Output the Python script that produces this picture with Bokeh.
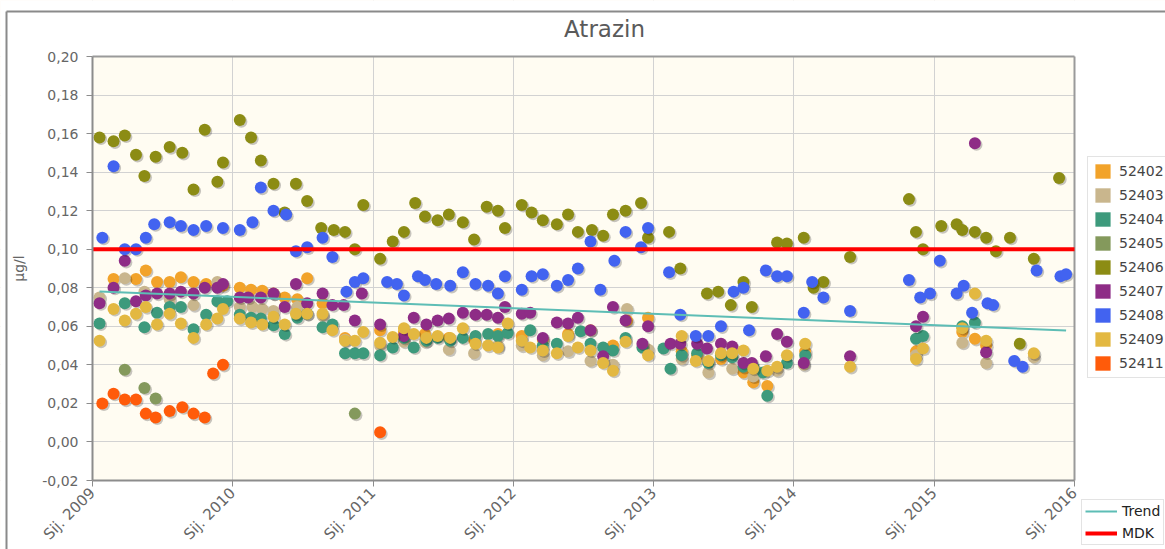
import numpy as np
from bokeh.plotting import figure
from bokeh.models import (Range1d, FixedTicker, CustomJSTickFormatter, Legend,
                          LegendItem, BoxAnnotation, Label)
from bokeh.embed import file_html
from bokeh.resources import INLINE

# ---------------- data ----------------
title_text = "Atrazin"
y_label = "µg/l"
year_ticks = [2009, 2010, 2011, 2012, 2013, 2014, 2015, 2016]
year_tick_labels = ["Sij. 2009", "Sij. 2010", "Sij. 2011", "Sij. 2012",
                    "Sij. 2013", "Sij. 2014", "Sij. 2015", "Sij. 2016"]
y_ticks = [-0.02, 0.0, 0.02, 0.04, 0.06, 0.08, 0.10, 0.12, 0.14, 0.16, 0.18, 0.20]

station_names = ["52402", "52403", "52404", "52405", "52406",
                 "52407", "52408", "52409", "52411"]
station_colors = ["#F2A32A", "#C9B68D", "#3D9A7C", "#84995C", "#8C8C14",
                  "#8E2C86", "#4263F0", "#E3B841", "#FF5B0A"]

s52402_x = [2009.15, 2009.31, 2009.38, 2009.46, 2009.55, 2009.63, 2009.72, 2009.81,
            2009.93, 2010.05, 2010.13, 2010.21, 2010.29, 2010.37, 2010.46, 2010.53,
            2010.64, 2010.80, 2011.05, 2011.22, 2011.37, 2011.54, 2011.72, 2011.89,
            2012.06, 2012.21, 2012.39, 2012.55, 2012.71, 2012.81, 2012.96, 2013.20,
            2013.31, 2013.48, 2013.64, 2013.71, 2013.81, 2014.08, 2014.87, 2015.20,
            2015.29, 2015.37]
s52402_y = [0.0845, 0.0845, 0.089, 0.083, 0.083, 0.0855, 0.083, 0.082,
            0.081, 0.080, 0.079, 0.0785, 0.077, 0.075, 0.074, 0.085,
            0.072, 0.054, 0.058, 0.057, 0.056, 0.054, 0.053, 0.056,
            0.055, 0.053, 0.056, 0.058, 0.050, 0.063, 0.0645, 0.047,
            0.045, 0.043, 0.036, 0.031, 0.029, 0.047, 0.047, 0.057,
            0.0535, 0.050]

s52403_x = [2009.05, 2009.23, 2009.37, 2009.55, 2009.72, 2009.89, 2010.05, 2010.14,
            2010.21, 2010.29, 2010.46, 2010.64, 2010.80, 2011.05, 2011.22, 2011.37,
            2011.54, 2011.72, 2011.89, 2012.06, 2012.21, 2012.39, 2012.55, 2012.71,
            2012.81, 2012.96, 2013.20, 2013.39, 2013.56, 2013.71, 2013.88, 2014.07,
            2014.87, 2015.20, 2015.37, 2015.71]
s52403_y = [0.075, 0.085, 0.078, 0.074, 0.071, 0.083, 0.070, 0.070,
            0.069, 0.068, 0.070, 0.0655, 0.053, 0.050, 0.052, 0.052,
            0.048, 0.046, 0.050, 0.050, 0.045, 0.047, 0.042, 0.040,
            0.069, 0.048, 0.043, 0.036, 0.038, 0.034, 0.037, 0.040,
            0.045, 0.0515, 0.041, 0.044]

s52404_x = [2009.05, 2009.23, 2009.37, 2009.46, 2009.55, 2009.63, 2009.72, 2009.81,
            2009.89, 2009.96, 2010.05, 2010.13, 2010.20, 2010.29, 2010.37, 2010.46,
            2010.53, 2010.64, 2010.71, 2010.80, 2010.87, 2010.93, 2011.05, 2011.14,
            2011.22, 2011.29, 2011.38, 2011.46, 2011.55, 2011.64, 2011.73, 2011.82,
            2011.89, 2011.96, 2012.12, 2012.21, 2012.31, 2012.48, 2012.55, 2012.64,
            2012.71, 2012.80, 2012.92, 2013.07, 2013.12, 2013.20, 2013.31, 2013.39,
            2013.48, 2013.56, 2013.64, 2013.71, 2013.78, 2013.81, 2013.95, 2014.08,
            2014.87, 2014.92, 2015.20, 2015.29]
s52404_y = [0.0615, 0.072, 0.0595, 0.067, 0.070, 0.070, 0.0585, 0.066,
            0.073, 0.073, 0.066, 0.0645, 0.064, 0.0605, 0.056, 0.0645,
            0.0665, 0.0595, 0.061, 0.046, 0.046, 0.046, 0.045, 0.049,
            0.054, 0.049, 0.0525, 0.054, 0.0525, 0.054, 0.055, 0.056,
            0.055, 0.0565, 0.058, 0.050, 0.051, 0.0575, 0.051, 0.049,
            0.0475, 0.054, 0.049, 0.0485, 0.038, 0.045, 0.046, 0.041,
            0.045, 0.044, 0.039, 0.039, 0.036, 0.024, 0.041, 0.045,
            0.0535, 0.055, 0.060, 0.062]

s52405_x = [2009.23, 2009.37, 2009.45, 2010.87]
s52405_y = [0.0375, 0.028, 0.0225, 0.0147]

s52406_x = [2009.05, 2009.15, 2009.23, 2009.31, 2009.37, 2009.45, 2009.55, 2009.64,
            2009.72, 2009.80, 2009.89, 2009.93, 2010.05, 2010.13, 2010.20, 2010.29,
            2010.37, 2010.45, 2010.53, 2010.63, 2010.72, 2010.80, 2010.87, 2010.93,
            2011.05, 2011.14, 2011.22, 2011.30, 2011.37, 2011.46, 2011.54, 2011.64,
            2011.72, 2011.81, 2011.89, 2011.94, 2012.06, 2012.13, 2012.21, 2012.31,
            2012.39, 2012.46, 2012.56, 2012.64, 2012.71, 2012.80, 2012.91, 2012.96,
            2013.11, 2013.19, 2013.38, 2013.46, 2013.55, 2013.64, 2013.70, 2013.88,
            2013.95, 2014.07, 2014.14, 2014.21, 2014.40, 2014.82, 2014.87, 2014.92,
            2015.05, 2015.16, 2015.20, 2015.29, 2015.37, 2015.44, 2015.54, 2015.61,
            2015.71, 2015.89]
s52406_y = [0.158, 0.156, 0.159, 0.149, 0.138, 0.148, 0.153, 0.150,
            0.131, 0.162, 0.135, 0.145, 0.167, 0.158, 0.146, 0.134,
            0.119, 0.134, 0.125, 0.111, 0.110, 0.109, 0.100, 0.123,
            0.095, 0.104, 0.109, 0.124, 0.117, 0.115, 0.118, 0.114,
            0.105, 0.122, 0.120, 0.111, 0.123, 0.119, 0.115, 0.113,
            0.118, 0.109, 0.110, 0.107, 0.118, 0.120, 0.124, 0.106,
            0.109, 0.090, 0.077, 0.078, 0.071, 0.083, 0.070, 0.1035,
            0.103, 0.106, 0.080, 0.083, 0.096, 0.126, 0.109, 0.100,
            0.112, 0.113, 0.110, 0.109, 0.106, 0.099, 0.106, 0.051,
            0.095, 0.137]

s52407_x = [2009.05, 2009.15, 2009.23, 2009.31, 2009.38, 2009.46, 2009.55, 2009.63,
            2009.72, 2009.80, 2009.89, 2009.93, 2010.05, 2010.11, 2010.20, 2010.29,
            2010.37, 2010.45, 2010.53, 2010.64, 2010.71, 2010.79, 2010.87, 2010.92,
            2011.05, 2011.22, 2011.29, 2011.38, 2011.46, 2011.54, 2011.64, 2011.73,
            2011.81, 2011.89, 2011.94, 2012.06, 2012.12, 2012.21, 2012.31, 2012.39,
            2012.46, 2012.55, 2012.64, 2012.71, 2012.80, 2012.92, 2012.96, 2013.12,
            2013.19, 2013.31, 2013.38, 2013.48, 2013.56, 2013.64, 2013.70, 2013.80,
            2013.88, 2013.95, 2014.07, 2014.40, 2014.87, 2014.92, 2015.29, 2015.37]
s52407_y = [0.072, 0.080, 0.094, 0.073, 0.076, 0.077, 0.077, 0.078,
            0.077, 0.080, 0.080, 0.082, 0.075, 0.075, 0.075, 0.077,
            0.070, 0.082, 0.072, 0.077, 0.071, 0.071, 0.063, 0.077,
            0.061, 0.055, 0.0645, 0.061, 0.063, 0.064, 0.067, 0.066,
            0.066, 0.0645, 0.070, 0.0665, 0.067, 0.054, 0.062, 0.0615,
            0.0645, 0.058, 0.0445, 0.070, 0.063, 0.051, 0.060, 0.051,
            0.051, 0.051, 0.0485, 0.051, 0.0495, 0.041, 0.041, 0.0445,
            0.056, 0.052, 0.041, 0.0445, 0.060, 0.065, 0.155, 0.0465]

s52408_x = [2009.07, 2009.15, 2009.23, 2009.31, 2009.38, 2009.44, 2009.55, 2009.63,
            2009.72, 2009.81, 2009.93, 2010.05, 2010.14, 2010.20, 2010.29, 2010.38,
            2010.45, 2010.53, 2010.64, 2010.71, 2010.81, 2010.87, 2010.93, 2011.10,
            2011.17, 2011.22, 2011.32, 2011.37, 2011.45, 2011.55, 2011.64, 2011.73,
            2011.82, 2011.89, 2011.94, 2012.06, 2012.13, 2012.21, 2012.31, 2012.39,
            2012.46, 2012.55, 2012.62, 2012.72, 2012.80, 2012.91, 2012.96, 2013.11,
            2013.19, 2013.30, 2013.39, 2013.48, 2013.57, 2013.64, 2013.68, 2013.80,
            2013.88, 2013.95, 2014.07, 2014.13, 2014.21, 2014.40, 2014.82, 2014.90,
            2014.97, 2015.04, 2015.16, 2015.21, 2015.27, 2015.38, 2015.42, 2015.57,
            2015.63, 2015.73, 2015.90, 2015.94]
s52408_y = [0.106, 0.143, 0.100, 0.100, 0.106, 0.113, 0.114, 0.112,
            0.110, 0.112, 0.111, 0.110, 0.114, 0.132, 0.120, 0.118,
            0.099, 0.101, 0.106, 0.096, 0.078, 0.083, 0.085, 0.083,
            0.082, 0.076, 0.086, 0.084, 0.082, 0.081, 0.088, 0.082,
            0.081, 0.077, 0.086, 0.079, 0.086, 0.087, 0.081, 0.084,
            0.090, 0.104, 0.079, 0.094, 0.109, 0.101, 0.111, 0.088,
            0.066, 0.055, 0.055, 0.060, 0.078, 0.080, 0.058, 0.089,
            0.086, 0.086, 0.067, 0.083, 0.075, 0.068, 0.084, 0.075,
            0.077, 0.094, 0.077, 0.081, 0.067, 0.072, 0.071, 0.042,
            0.039, 0.089, 0.086, 0.087]

s52409_x = [2009.05, 2009.15, 2009.23, 2009.31, 2009.38, 2009.46, 2009.55, 2009.63,
            2009.72, 2009.81, 2009.89, 2009.93, 2010.05, 2010.13, 2010.21, 2010.29,
            2010.37, 2010.45, 2010.53, 2010.64, 2010.71, 2010.80, 2010.87, 2010.93,
            2011.05, 2011.14, 2011.22, 2011.29, 2011.38, 2011.46, 2011.55, 2011.64,
            2011.73, 2011.82, 2011.89, 2011.96, 2012.06, 2012.12, 2012.21, 2012.31,
            2012.39, 2012.46, 2012.55, 2012.64, 2012.71, 2012.80, 2012.96, 2013.20,
            2013.30, 2013.39, 2013.48, 2013.56, 2013.64, 2013.71, 2013.81, 2013.88,
            2013.95, 2014.08, 2014.40, 2014.87, 2014.92, 2015.20, 2015.29, 2015.37,
            2015.71]
s52409_y = [0.0525, 0.069, 0.063, 0.0665, 0.070, 0.061, 0.0665, 0.0615,
            0.054, 0.061, 0.064, 0.069, 0.064, 0.062, 0.061, 0.065,
            0.061, 0.0665, 0.0665, 0.0665, 0.058, 0.0525, 0.0525, 0.057,
            0.0515, 0.0545, 0.059, 0.056, 0.054, 0.055, 0.054, 0.059,
            0.051, 0.050, 0.049, 0.0615, 0.0525, 0.049, 0.0475, 0.046,
            0.055, 0.049, 0.0475, 0.041, 0.037, 0.052, 0.045, 0.055,
            0.042, 0.042, 0.046, 0.046, 0.0475, 0.038, 0.037, 0.039,
            0.045, 0.051, 0.039, 0.043, 0.0485, 0.059, 0.077, 0.0525,
            0.046]

s52411_x = [2009.07, 2009.15, 2009.23, 2009.31, 2009.38, 2009.45, 2009.55, 2009.64,
            2009.72, 2009.80, 2009.86, 2009.93, 2011.05]
s52411_y = [0.020, 0.025, 0.022, 0.022, 0.0147, 0.0127, 0.016, 0.018,
            0.0147, 0.0127, 0.0355, 0.040, 0.005]

trend_x = [2009.05, 2015.94]
trend_y = [0.0781, 0.0578]
mdk_value = 0.10

series_x = [s52402_x, s52403_x, s52404_x, s52405_x, s52406_x,
            s52407_x, s52408_x, s52409_x, s52411_x]
series_y = [s52402_y, s52403_y, s52404_y, s52405_y, s52406_y,
            s52407_y, s52408_y, s52409_y, s52411_y]

# ---------------- layout geometry (pixels) ----------------
W, H = 1165, 549
FL, FR, FT, FB = 92, 1074, 56, 480           # plot area edges in px
X0, X1 = year_ticks[0], year_ticks[-1]
Y0, Y1 = y_ticks[0], y_ticks[-1]
kx = (X1 - X0) / (FR - FL)
ky = (Y1 - Y0) / (FB - FT)


def xpx(px):
    return X0 + (px - FL) * kx


def ypx(py):
    return Y1 - (py - FT) * ky


FONT = "DejaVu Sans"
p = figure(width=W, height=H, output_backend="svg", toolbar_location=None,
           x_range=Range1d(xpx(0), xpx(W)), y_range=Range1d(ypx(H), ypx(0)),
           min_border=0, min_border_left=0, min_border_right=0,
           min_border_top=0, min_border_bottom=0,
           background_fill_color="#FFFCF2", border_fill_color="white")
p.title.visible = False
p.outline_line_color = None

p.xaxis.fixed_location = Y0
p.yaxis.fixed_location = X0
p.xaxis.bounds = (X0, X1)
p.yaxis.bounds = (Y0, Y1)

p.xaxis.ticker = FixedTicker(ticks=year_ticks)
p.xaxis.formatter = CustomJSTickFormatter(
    args=dict(years=year_ticks, labels=year_tick_labels),
    code="const i = years.indexOf(Math.round(tick)); return i >= 0 ? labels[i] : '';")
p.xaxis.major_label_orientation = np.pi / 4
p.yaxis.ticker = FixedTicker(ticks=y_ticks)
p.yaxis.formatter = CustomJSTickFormatter(
    code="return tick.toFixed(2).replace('.', ',');")
p.yaxis.axis_label = y_label
p.yaxis.axis_label_standoff = 12

for ax in (p.xaxis[0], p.yaxis[0]):
    ax.axis_line_color = "#8c8c8c"
    ax.axis_line_width = 2
    ax.major_tick_line_color = "#8c8c8c"
    ax.major_tick_in = 0
    ax.major_tick_out = 6
    ax.minor_tick_line_color = None
    ax.major_label_text_font = FONT
    ax.major_label_text_color = "#666666"
    ax.axis_label_text_font = FONT
    ax.axis_label_text_font_size = "14px"
    ax.axis_label_text_font_style = "normal"
    ax.axis_label_text_color = "#666666"
p.xaxis.major_label_text_font_size = "15px"
p.yaxis.major_label_text_font_size = "14px"
p.xaxis.major_label_standoff = 4
p.yaxis.major_label_standoff = 8

p.xgrid.ticker = FixedTicker(ticks=year_ticks)
p.ygrid.ticker = FixedTicker(ticks=y_ticks)
p.grid.grid_line_color = "#d2d2d2"
p.grid.grid_line_width = 1

# white areas around the plotting area
for kw in (dict(right=X0), dict(left=X1), dict(bottom=Y1), dict(top=Y0)):
    p.add_layout(BoxAnnotation(fill_color="white", fill_alpha=1.0,
                               line_color=None, level="underlay", **kw))

# outer chart border and plot border
p.segment(x0=[xpx(6), xpx(6)], y0=[ypx(11), ypx(11)],
          x1=[xpx(W), xpx(6)], y1=[ypx(11), ypx(H)],
          line_color="#8a8a8a", line_width=2)
p.segment(x0=[X0, X1], y0=[Y1, Y1], x1=[X1, X1], y1=[Y1, Y0],
          line_color="#9a9a9a", line_width=2)

# title
p.add_layout(Label(x=604, y=H - 28, x_units="screen", y_units="screen",
                   text=title_text, text_font=FONT, text_font_size="23px",
                   text_color="#5a5a5a", text_align="center",
                   text_baseline="middle"))

# shadow offsets (approx 1.6 px down-right)
dx = 1.6 * kx
dy = 1.6 * ky
for xs, ys, col in zip(series_x, series_y, station_colors):
    xs = np.array(xs)
    ys = np.array(ys)
    p.scatter(xs + dx, ys - dy, size=12, marker="circle",
              fill_color="#000000", fill_alpha=0.22, line_color=None)
    p.scatter(xs, ys, size=12, marker="circle", fill_color=col,
              line_color=None)

trend_r = p.line(trend_x, trend_y, line_color="#5DBDB5", line_width=2)
mdk_r = p.line([X0, X1], [mdk_value, mdk_value], line_color="#FF0000",
               line_width=4)

# legend swatches: quads with a single undefined (NaN) entry, so nothing
# is drawn in the plot, only the legend swatch
legend_items = []
nan1 = np.array([np.nan])
for name, col in zip(station_names, station_colors):
    r = p.quad(left=nan1, right=nan1, top=nan1, bottom=nan1, fill_color=col,
               line_color=None)
    legend_items.append(LegendItem(label=name, renderers=[r]))
leg1 = Legend(items=legend_items, location=(1087, H - 378), orientation="vertical",
              glyph_width=19, glyph_height=18, label_height=18,
              label_standoff=7, spacing=6, padding=5,
              label_text_font=FONT, label_text_font_size="14px",
              label_text_color="#444444", border_line_color="#c8c8c8",
              background_fill_color="white", background_fill_alpha=1)
p.add_layout(leg1)

leg2 = Legend(items=[LegendItem(label="Trend", renderers=[trend_r]),
                     LegendItem(label="MDK", renderers=[mdk_r])],
              location=(1081, H - 545), glyph_width=32, glyph_height=16,
              label_height=16, label_standoff=5, spacing=6, padding=3,
              label_text_font=FONT, label_text_font_size="14px",
              label_text_color="#222222", border_line_color="#c8c8c8",
              background_fill_color="white", background_fill_alpha=1)
p.add_layout(leg2)

open("out.html", "w").write(file_html(p, INLINE))
